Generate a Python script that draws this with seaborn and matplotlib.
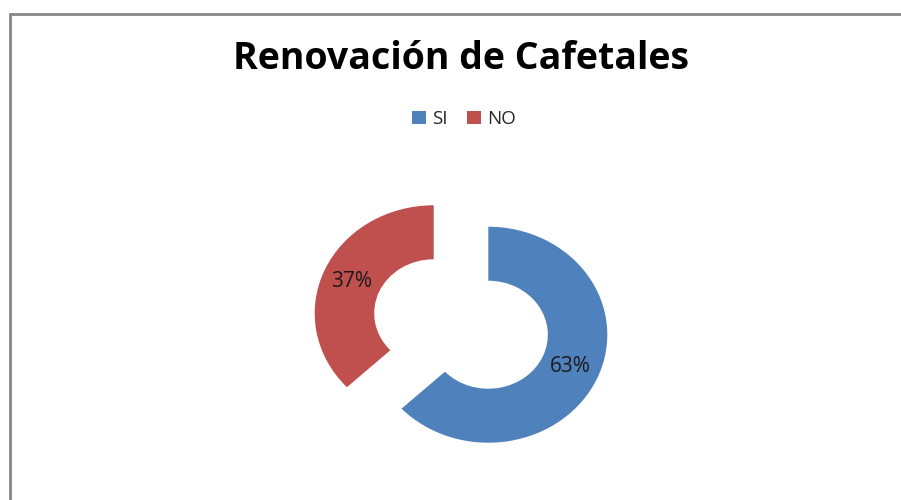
import matplotlib
matplotlib.use("Agg")
import matplotlib.pyplot as plt
from matplotlib.lines import Line2D
from matplotlib.patches import Patch
import seaborn as sns

# chart data
categories = ["SI", "NO"]
shares = [63, 37]
colors = ["#4F81BD", "#C0504D"]

sns.set_theme(style="white")
plt.rcParams["font.family"] = ["Open Sans", "DejaVu Sans"]

W, H = 901, 500
fig = plt.figure(figsize=(W / 100, H / 100), dpi=100)
fig.patch.set_facecolor("white")

# chart frame (only left and top edges show in the crop)
fig.add_artist(Line2D([9.5 / W, 9.5 / W], [0, 1 - 14 / H], color="#868686", lw=2))
fig.add_artist(Line2D([9.5 / W, 1], [1 - 14 / H, 1 - 14 / H], color="#868686", lw=2))

# axes placed so the donut lands where it sits in the picture
sx, sy = 119, 108   # pixels per data unit
cx, cy = 461, 324   # pie centre in pixels
lim = 1.6
ax = fig.add_axes([(cx - lim * sx) / W, (H - cy - lim * sy) / H,
                   2 * lim * sx / W, 2 * lim * sy / H])
wedges, texts, autotexts = ax.pie(
    shares, colors=colors, startangle=90, counterclock=False,
    explode=[0.25, 0.25], radius=1, pctdistance=0.75,
    autopct=lambda p: f"{p:.0f}%",
    wedgeprops=dict(width=0.5, edgecolor="none"),
    textprops=dict(fontsize=15, color="#1a1a1a"),
)
ax.set_xlim(-lim, lim)
ax.set_ylim(-lim, lim)
ax.set_aspect("auto")
ax.axis("off")

fig.text(461 / W, 1 - 59 / H, "Renovación de Cafetales", ha="center", va="center",
         fontsize=27, fontweight="bold", color="black")

handles = [Patch(facecolor=c, edgecolor="none") for c in colors]
fig.legend(handles, categories, loc="center", bbox_to_anchor=(464 / W, 1 - 119 / H),
           ncol=2, frameon=False, fontsize=13.5, handlelength=0.75, handleheight=0.75,
           handletextpad=0.35, columnspacing=1.0)

fig.savefig("out.png", dpi=100, facecolor="white")
